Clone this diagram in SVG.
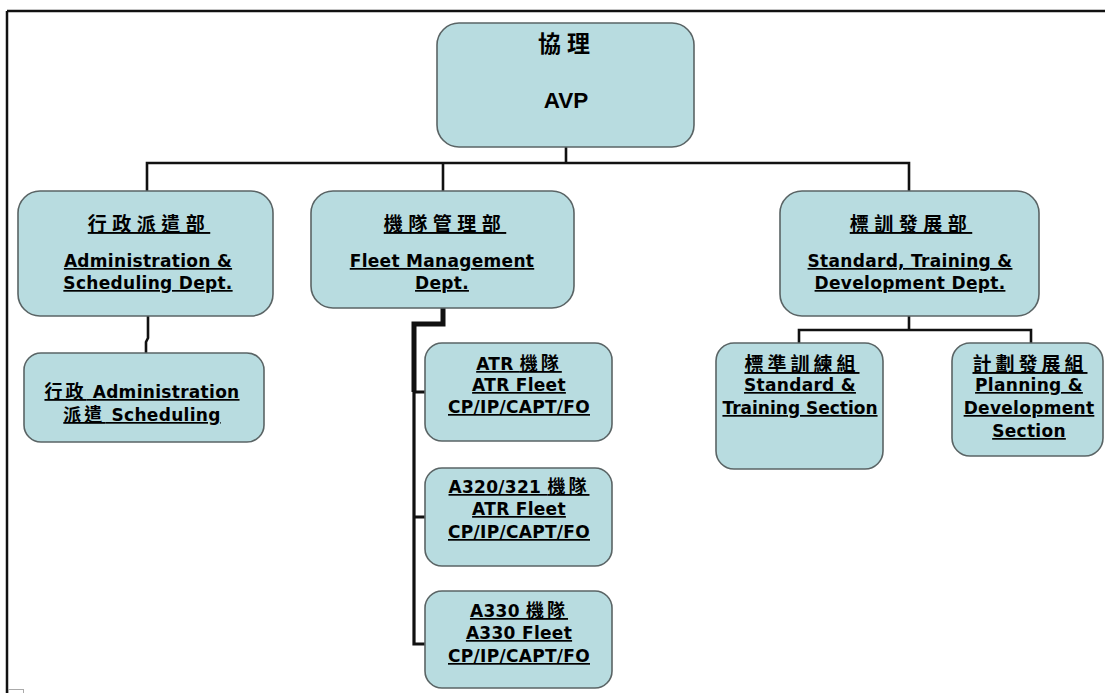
<svg xmlns="http://www.w3.org/2000/svg" width="1105" height="693" viewBox="0 0 1105 693">
<style>
.box{fill:#b8dce0;stroke:#5a6465;stroke-width:1.6}
.ln{fill:none;stroke:#111;stroke-width:2.6;stroke-linejoin:miter}
text{font-family:"DejaVu Sans","Noto Sans CJK TC",sans-serif;font-weight:bold;fill:#000;text-anchor:middle}
.t{font-size:17px;letter-spacing:0.3px;text-decoration:underline}
.c{font-family:"Noto Sans CJK TC","DejaVu Sans",sans-serif;font-size:19px;letter-spacing:5.5px;text-decoration:underline}
.k{font-family:"Noto Sans CJK TC",sans-serif;font-size:18px;letter-spacing:3px}
</style>
<rect width="1105" height="693" fill="#fff"/>
<g id="frame">
<path d="M7,11 H1105 M7,11 V693" fill="none" stroke="#111" stroke-width="2.5"/>
<rect x="8.5" y="689.5" width="15" height="6" fill="#fff" stroke="#aaa" stroke-width="1"/>
</g>
<g id="connectors">
<path class="ln" d="M566,147 V163 M147,191 V163 H909 V191 M443,163 V191"/>
<path class="ln" d="M148,316 V338 L146,342 V353"/>
<path class="ln" style="stroke-width:5" d="M443,308 V324 H414 V392"/>
<path class="ln" style="stroke-width:3.2" d="M414,390 V644 H425 M414,392 H425 M414,517 H425"/>
<path class="ln" d="M909,316 V330 M799,343 V330 H1031 V343"/>
</g>
<g id="avp">
<rect class="box" x="437" y="23" width="257" height="124" rx="22"/>
<text x="567" y="52" style="font-family:'Noto Sans CJK TC',sans-serif;font-size:23px;letter-spacing:6px">協理</text>
<text x="566" y="108" style="font-family:'Liberation Sans',sans-serif;font-size:22.5px">AVP</text>
</g>
<g id="admin">
<rect class="box" x="18" y="191" width="255" height="125" rx="22"/>
<text class="c" x="149" y="231">行政派遣部</text>
<text class="t" x="148" y="267">Administration &amp;</text>
<text class="t" x="148" y="289">Scheduling Dept.</text>
</g>
<g id="fleet">
<rect class="box" x="311" y="191" width="263" height="117" rx="22"/>
<text class="c" x="445" y="231">機隊管理部</text>
<text class="t" x="442" y="267">Fleet Management</text>
<text class="t" x="442" y="289">Dept.</text>
</g>
<g id="std">
<rect class="box" x="780" y="191" width="259" height="125" rx="22"/>
<text class="c" x="911" y="231">標訓發展部</text>
<text class="t" x="910" y="267">Standard, Training &amp;</text>
<text class="t" x="910" y="289">Development Dept.</text>
</g>
<g id="adminsub">
<rect class="box" x="24" y="353" width="240" height="89" rx="17"/>
<text class="t" x="142" y="398"><tspan class="k">行政</tspan> Administration</text>
<text class="t" x="142" y="421"><tspan class="k">派遣</tspan> Scheduling</text>
</g>
<g id="atr">
<rect class="box" x="425" y="343" width="187" height="98" rx="17"/>
<text class="t" x="519" y="370">ATR <tspan class="k">機隊</tspan></text>
<text class="t" x="519" y="391">ATR Fleet</text>
<text class="t" x="519" y="413">CP/IP/CAPT/FO</text>
</g>
<g id="a320">
<rect class="box" x="425" y="468" width="187" height="98" rx="17"/>
<text class="t" x="519" y="493">A320/321 <tspan class="k">機隊</tspan></text>
<text class="t" x="519" y="515">ATR Fleet</text>
<text class="t" x="519" y="538">CP/IP/CAPT/FO</text>
</g>
<g id="a330">
<rect class="box" x="425" y="591" width="187" height="97" rx="17"/>
<text class="t" x="519" y="617">A330 <tspan class="k">機隊</tspan></text>
<text class="t" x="519" y="639">A330 Fleet</text>
<text class="t" x="519" y="662">CP/IP/CAPT/FO</text>
</g>
<g id="stdtrain">
<rect class="box" x="716" y="343" width="167" height="126" rx="18"/>
<text class="c" x="802" y="371" style="font-size:19px;letter-spacing:4px">標準訓練組</text>
<text class="t" x="800" y="391">Standard &amp;</text>
<text class="t" x="800" y="414" style="letter-spacing:0">Training Section</text>
</g>
<g id="plan">
<rect class="box" x="952" y="343" width="151" height="113" rx="18"/>
<text class="c" x="1030" y="371" style="font-size:19px;letter-spacing:4px">計劃發展組</text>
<text class="t" x="1029" y="391">Planning &amp;</text>
<text class="t" x="1029" y="414">Development</text>
<text class="t" x="1029" y="437">Section</text>
</g>
</svg>
